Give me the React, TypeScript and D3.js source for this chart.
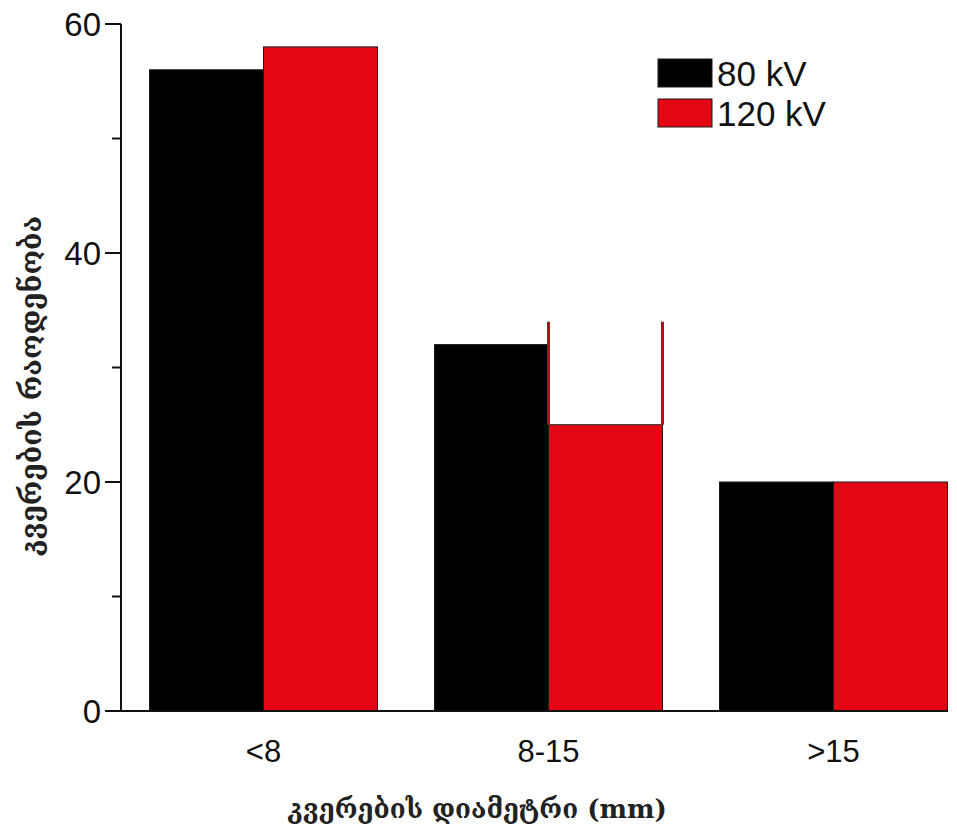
import { useRef, useEffect } from "react";
import * as d3 from "d3";

const categories = ["<8", "8-15", ">15"];
const seriesNames = ["80 kV", "120 kV"];
const values80 = [56, 32, 20];
const values120 = [58, 25, 20];
// open outline drawn above the 120 kV bar in the middle group
const outline120 = [null, 34, null];
const yTicksMajor = [0, 20, 40, 60];
const yTicksMinor = [10, 30, 50];

const colors = ["#000000", "#e30613"];

const App = () => {
  const svgRef = useRef(null);

  useEffect(() => {
    const svg = d3.select(svgRef.current);
    svg.selectAll("*").remove();

    const left = 121;
    const bottom = 711;
    const top = 24;

    const x = d3
      .scaleBand()
      .domain(categories)
      .range([left, left + 855])
      .paddingInner(0.2)
      .paddingOuter(0.1);
    const xs = d3.scaleBand().domain(seriesNames).range([0, x.bandwidth()]);
    const y = d3.scaleLinear().domain([0, 60]).range([bottom, top]);

    const font = "'Liberation Sans', Arial, sans-serif";

    // bars
    const rows = categories.map((c, i) => ({ c, vals: [values80[i], values120[i]] }));
    const groups = svg
      .selectAll("g.grp")
      .data(rows)
      .enter()
      .append("g")
      .attr("transform", (d) => `translate(${x(d.c)},0)`);
    groups
      .selectAll("rect")
      .data((d) => d.vals.map((v, j) => ({ v, s: seriesNames[j], j })))
      .enter()
      .append("rect")
      .attr("x", (d) => xs(d.s))
      .attr("y", (d) => y(d.v))
      .attr("width", xs.bandwidth())
      .attr("height", (d) => bottom - y(d.v))
      .attr("fill", (d) => colors[d.j])
      .attr("stroke", "#1a1a1a")
      .attr("stroke-width", 1);

    // outline part of 120 kV bar
    outline120.forEach((v, i) => {
      if (v == null) return;
      const x0 = x(categories[i]) + xs("120 kV");
      const x1 = x0 + xs.bandwidth();
      [x0, x1].forEach((xx) => {
        svg
          .append("line")
          .attr("x1", xx)
          .attr("x2", xx)
          .attr("y1", y(values120[i]))
          .attr("y2", y(v))
          .attr("stroke", "#b0101a")
          .attr("stroke-width", 3);
      });
    });

    // y axis
    const yAxis = svg.append("g").attr("transform", `translate(${left},0)`);
    yAxis
      .append("line")
      .attr("x1", 0)
      .attr("x2", 0)
      .attr("y1", y(60))
      .attr("y2", bottom)
      .attr("stroke", "#111")
      .attr("stroke-width", 2);
    yAxis
      .selectAll("line.maj")
      .data(yTicksMajor)
      .enter()
      .append("line")
      .attr("x1", -16)
      .attr("x2", 0)
      .attr("y1", (d) => y(d))
      .attr("y2", (d) => y(d))
      .attr("stroke", "#111")
      .attr("stroke-width", 2);
    yAxis
      .selectAll("line.min")
      .data(yTicksMinor)
      .enter()
      .append("line")
      .attr("x1", -9)
      .attr("x2", 0)
      .attr("y1", (d) => y(d))
      .attr("y2", (d) => y(d))
      .attr("stroke", "#111")
      .attr("stroke-width", 2);
    yAxis
      .selectAll("text")
      .data(yTicksMajor)
      .enter()
      .append("text")
      .attr("x", -20)
      .attr("y", (d) => y(d))
      .attr("dy", "0.36em")
      .attr("text-anchor", "end")
      .attr("font-family", font)
      .attr("font-size", 33)
      .attr("fill", "#111")
      .text((d) => d);

    // x axis
    svg
      .append("line")
      .attr("x1", left - 16)
      .attr("x2", x.range()[0] + 827)
      .attr("y1", bottom)
      .attr("y2", bottom)
      .attr("stroke", "#111")
      .attr("stroke-width", 2);
    svg
      .selectAll("text.cat")
      .data(categories)
      .enter()
      .append("text")
      .attr("x", (d) => x(d) + x.bandwidth() / 2)
      .attr("y", 762)
      .attr("text-anchor", "middle")
      .attr("font-family", font)
      .attr("font-size", 31)
      .attr("fill", "#111")
      .text((d) => d);

    // titles
    svg
      .append("text")
      .attr("x", 477)
      .attr("y", 818)
      .attr("text-anchor", "middle")
      .attr("font-family", "'DejaVu Serif', serif")
      .attr("font-weight", "bold")
      .attr("font-size", 26)
      .attr("fill", "#222")
      .text("კვერების დიამეტრი (mm)");
    svg
      .append("text")
      .attr("transform", `translate(41,386) rotate(-90)`)
      .attr("text-anchor", "middle")
      .attr("font-family", "'DejaVu Serif', serif")
      .attr("font-weight", "bold")
      .attr("font-size", 28)
      .attr("fill", "#222")
      .text("კვერების რაოდენობა");

    // legend
    const lg = svg
      .selectAll("g.lg")
      .data(seriesNames)
      .enter()
      .append("g")
      .attr("transform", (d, i) => `translate(658,${59 + i * 40})`);
    lg.append("rect")
      .attr("width", 54)
      .attr("height", 28)
      .attr("fill", (d, i) => colors[i])
      .attr("stroke", "#1a1a1a");
    lg.append("text")
      .attr("x", 59)
      .attr("y", 27)
      .attr("font-family", font)
      .attr("font-size", 35)
      .attr("fill", "#111")
      .text((d) => d);
  }, []);

  return (
    <svg
      ref={svgRef}
      width={957}
      height={840}
      style={{ position: "absolute", left: 0, top: 0, background: "#fff" }}
    ></svg>
  );
};

export default App;
